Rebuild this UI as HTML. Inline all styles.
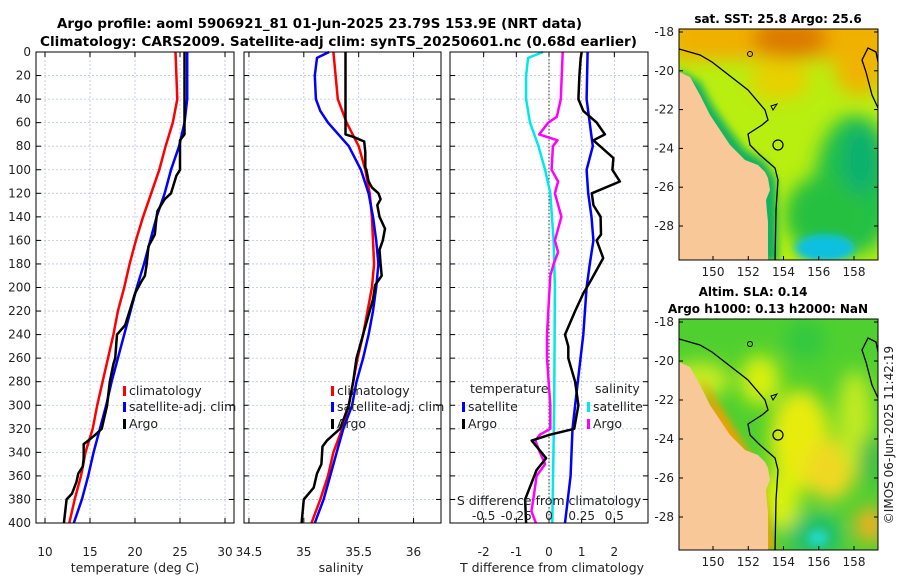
<!DOCTYPE html>
<html><head><meta charset="utf-8">
<style>
body{margin:0;background:#fff;}
svg{display:block;font-family:"DejaVu Sans","Liberation Sans",sans-serif;}
</style></head>
<body>
<svg id="chart" width="900" height="580" viewBox="0 0 900 580" xmlns="http://www.w3.org/2000/svg">
<rect width="900" height="580" fill="#fff"/>
<text x="57" y="28" font-size="13" font-weight="bold" textLength="525" lengthAdjust="spacingAndGlyphs">Argo profile: aoml 5906921_81 01-Jun-2025 23.79S 153.9E (NRT data)</text>
<text x="40" y="46" font-size="13" font-weight="bold" textLength="597" lengthAdjust="spacingAndGlyphs">Climatology: CARS2009. Satellite-adj clim: synTS_20250601.nc (0.68d earlier)</text>
<g id="panels"></g>
<g id="maps">
  <defs>
    <clipPath id="clip1"><rect x="679" y="29" width="199" height="231"/></clipPath>
    <clipPath id="clip2"><rect x="679" y="319" width="199" height="231"/></clipPath>
    <filter id="blur" x="-50%" y="-50%" width="200%" height="200%"><feGaussianBlur stdDeviation="9"/></filter>
    <filter id="blur2" x="-50%" y="-50%" width="200%" height="200%"><feGaussianBlur stdDeviation="4"/></filter>
  </defs>
  <text x="778" y="23" font-size="12" font-weight="bold" text-anchor="middle">sat. SST: 25.8 Argo: 25.6</text>
  <g clip-path="url(#clip1)">
    <rect x="679" y="29" width="199" height="231" fill="#b8ee10"/>
    <g filter="url(#blur)">
      <rect x="670" y="10" width="220" height="50" fill="#f0b000"/>
      <ellipse cx="790" cy="38" rx="38" ry="20" fill="#dc7a00"/>
      <ellipse cx="860" cy="70" rx="25" ry="25" fill="#f0b400"/>
      <ellipse cx="780" cy="80" rx="30" ry="20" fill="#e8d000"/>
      <ellipse cx="855" cy="185" rx="40" ry="70" fill="#22c048"/>
      <ellipse cx="825" cy="215" rx="40" ry="40" fill="#28c040"/>
      <ellipse cx="860" cy="160" rx="18" ry="35" fill="#10b070"/>
    </g>
    <ellipse cx="825" cy="248" rx="30" ry="14" fill="#10c0e0" filter="url(#blur2)"/>
    <path d="M679,70 L700,82 L712,105 L728,128 L745,150 L765,162 L776,180 L778,262 L760,262 L760,180 L740,165 L720,140 L700,110 L679,85Z" fill="#10b060" filter="url(#blur2)"/>
    <path d="M679,72 L690,77 L700,95 L710,115 L720,130 L730,145 L745,160 L758,165 L765,172 L768,178 L770,190 L766,200 L767,212 L768,222 L768,262 L679,262Z" fill="#f8c898"/>
    <path d="M679,49 L700,55 L712,62 L748,90 L765,110 L768,120 L762,125 L748,134 L750,145 L760,155 L775,168 L778,180 L776,210 L775,262" fill="none" stroke="#000" stroke-width="1.3"/>
    <path d="M879,110 L872,95 L866,72 L862,60 L868,48 L876,52 L878,62" fill="none" stroke="#000" stroke-width="1.3"/>
    <circle cx="778" cy="145" r="5" fill="none" stroke="#000" stroke-width="1.2"/>
    <path d="M771,106 L777,104 L773,110Z" fill="none" stroke="#000"/>
    <circle cx="750" cy="54" r="2.5" fill="none" stroke="#000"/>
  </g>
  <rect x="679" y="29" width="199" height="231" fill="none" stroke="#000" stroke-width="1"/>
  <text x="753" y="296" font-size="12" font-weight="bold" text-anchor="middle">Altim. SLA: 0.14</text>
  <text x="768" y="313" font-size="12" font-weight="bold" text-anchor="middle">Argo h1000: 0.13 h2000: NaN</text>
  <g clip-path="url(#clip2)">
    <rect x="679" y="319" width="199" height="231" fill="#50d030"/>
    <g filter="url(#blur)">
      <ellipse cx="700" cy="380" rx="30" ry="18" fill="#c8ec20"/>
      <ellipse cx="760" cy="380" rx="20" ry="25" fill="#d8f010"/>
      <ellipse cx="800" cy="440" rx="30" ry="50" fill="#e8ec10"/>
      <ellipse cx="830" cy="470" rx="25" ry="30" fill="#f0d820"/>
      <ellipse cx="855" cy="420" rx="18" ry="50" fill="#c0ea20"/>
      <ellipse cx="870" cy="525" rx="15" ry="18" fill="#f0b020"/>
      <ellipse cx="815" cy="535" rx="28" ry="22" fill="#20c070"/>
      <ellipse cx="780" cy="500" rx="20" ry="30" fill="#d8f010"/>
      <ellipse cx="805" cy="340" rx="20" ry="20" fill="#30c840"/>
      <ellipse cx="870" cy="460" rx="10" ry="25" fill="#30b850"/>
    </g>
    <ellipse cx="818" cy="538" rx="10" ry="8" fill="#20d8c0" filter="url(#blur2)"/>
    <path d="M700,375 L735,430 L760,470 L775,550 L740,550 L720,440Z" fill="#f0a000" filter="url(#blur2)"/>
    <path d="M679,362 L690,367 L700,385 L710,405 L720,420 L730,435 L745,450 L758,455 L765,462 L768,468 L770,480 L766,490 L767,502 L768,512 L768,552 L679,552Z" fill="#f8c898"/>
    <path d="M679,339 L700,345 L712,352 L748,380 L765,400 L768,410 L762,415 L748,424 L750,435 L760,445 L775,458 L778,470 L776,500 L775,552" fill="none" stroke="#000" stroke-width="1.3"/>
    <path d="M879,400 L872,385 L866,362 L862,350 L868,338 L876,342 L878,352" fill="none" stroke="#000" stroke-width="1.3"/>
    <circle cx="778" cy="435" r="5" fill="none" stroke="#000" stroke-width="1.2"/>
    <path d="M771,396 L777,394 L773,400Z" fill="none" stroke="#000"/>
    <circle cx="750" cy="344" r="2.5" fill="none" stroke="#000"/>
  </g>
  <rect x="679" y="319" width="199" height="231" fill="none" stroke="#000" stroke-width="1"/>
  <text font-size="12" fill="#222" transform="translate(893,435) rotate(-90)" text-anchor="middle">©IMOS 06-Jun-2025 11:42:19</text>
  <g id="mapaxes"></g>
</g>
</svg>
<script>
// ---------- data ----------
const depthTicks = [0,20,40,60,80,100,120,140,160,180,200,220,240,260,280,300,320,340,360,380,400];
const tempTicks = [10,15,20,25,30];
const salTicks = [34.5,35,35.5,36];
const tdiffTicks = [-2,-1,0,1,2];
const sdiffTicks = [-0.5,-0.25,0,0.25,0.5];
const sdiffTickLabels = ["-0.5","-0.25","0","0.25","0.5"];

const climDepth = [0,40,60,80,100,120,140,160,180,200,220,240,260,280,300,320,340,360,380,400];
const tempClim = [24.5,24.7,24.2,23.4,22.7,21.8,20.9,20.1,19.4,18.8,18.1,17.6,17.0,16.4,15.8,15.3,14.5,14.0,13.3,12.7];
const tempSat = [25.8,25.8,25.5,24.9,24.0,23.3,22.4,21.7,21.0,20.2,19.5,18.8,18.1,17.4,16.8,16.1,15.4,14.8,14.1,13.2];
const argoTDepth = [0,60,70,75,80,100,105,110,120,125,135,140,155,165,180,190,195,205,220,232,240,260,265,280,300,320,325,330,333,345,352,358,365,375,380,400];
const tempArgo = [25.5,25.5,25.5,25.0,25.0,25.0,24.6,24.4,24.0,23.3,22.5,22.4,22.2,21.5,21.3,21.1,20.7,20.0,19.4,18.9,18.0,17.8,17.6,17.2,16.9,16.3,15.6,14.8,14.3,14.3,14.2,13.7,13.5,13.0,12.4,12.1];

const salClim = [35.27,35.31,35.39,35.50,35.56,35.60,35.62,35.63,35.64,35.62,35.58,35.54,35.49,35.45,35.41,35.35,35.27,35.22,35.15,35.07];
const satSDepth = [0,5,20,40,50,60,80,100,120,140,160,180,200,220,240,260,280,300,320,340,360,380,400];
const salSat = [35.23,35.12,35.10,35.11,35.15,35.22,35.41,35.52,35.59,35.63,35.66,35.68,35.66,35.63,35.59,35.54,35.48,35.44,35.36,35.30,35.24,35.18,35.10];
const argoSDepth = [0,70,72,76,85,98,100,110,115,120,125,130,140,150,160,168,180,190,198,210,230,240,260,280,300,320,325,330,335,350,358,370,380,400];
const salArgo = [35.38,35.38,35.45,35.55,35.56,35.56,35.57,35.59,35.62,35.68,35.70,35.67,35.69,35.74,35.72,35.69,35.70,35.71,35.65,35.63,35.57,35.54,35.48,35.45,35.41,35.33,35.27,35.21,35.17,35.16,35.12,35.09,35.00,34.98];

const sdSatDepth = [0,5,20,40,60,80,100,120,160,200,300,400];
const sDiffSat = [-0.045,-0.16,-0.175,-0.175,-0.145,-0.08,-0.03,0.01,0.035,0.045,0.04,0.025];
const sdArgoDepth = [0,40,55,60,70,75,80,100,110,120,140,160,170,180,190,220,240,260,300,320,325,330,340,350,360,380,390,400];
const sDiffArgo = [0.105,0.09,0.06,-0.005,-0.075,0.065,0.03,0.02,0.07,0.045,0.095,0.045,0.07,0.035,0.01,-0.005,-0.015,-0.015,0.01,0.01,-0.07,-0.105,-0.07,-0.03,-0.095,-0.12,-0.135,-0.1];
const tdSatDepth = [0,40,80,100,120,140,160,180,200,240,280,320,360,400];
const tDiffSat = [1.18,1.15,1.34,1.15,1.2,1.3,1.36,1.25,1.15,1.05,0.88,0.72,0.66,0.49];
const tdArgoDepth = [0,5,20,40,50,60,70,75,90,100,110,120,130,140,155,160,175,195,205,220,240,250,260,280,300,320,325,330,345,355,380,400];
const tDiffArgo = [1.0,0.97,0.93,0.9,1.05,1.46,1.71,1.36,1.97,1.94,2.17,1.31,1.36,1.58,1.59,1.46,1.66,1.26,1.05,0.8,0.49,0.59,0.59,0.8,0.9,0.77,0.03,-0.53,-0.09,-0.38,-0.73,-0.70];

const lonTicks = [150,152,154,156,158];
const latTicks = [-18,-20,-22,-24,-26,-28];

// ---------- helpers ----------
const NS = "http://www.w3.org/2000/svg";
const root = document.getElementById('panels');
function mk(tag, attrs, parent){
  const e = document.createElementNS(NS, tag);
  for (const k in attrs) e.setAttribute(k, attrs[k]);
  (parent||root).appendChild(e);
  return e;
}
const Y0 = 52, Y1 = 523;
const yScale = d => Y0 + (d/400)*(Y1-Y0);
function linScale(d0,d1,r0,r1){ return v => r0 + (v-d0)/(d1-d0)*(r1-r0); }

function drawPanel(name, x0, x1, xs, xticks, xlabels, showY){
  const g = mk('g', {});
  
  
  depthTicks.forEach(d=>{
    const l = mk('line',{x1:x0,x2:x1,y1:yScale(d),y2:yScale(d),stroke:'#b8c4dc','stroke-width':0.8,'stroke-dasharray':'2,2'},g);
    
    
    mk('line',{x1:x0,x2:x0+5,y1:yScale(d),y2:yScale(d),stroke:'#000'},g);
    mk('line',{x1:x1-5,x2:x1,y1:yScale(d),y2:yScale(d),stroke:'#000'},g);
    if (showY){
      const t = mk('text',{x:x0-5,y:yScale(d)+4,'font-size':12,'text-anchor':'end',fill:'#222'},g);
      t.textContent = d;
      
      
    }
  });
  xticks.forEach((v,i)=>{
    const x = xs(v);
    mk('line',{x1:x,x2:x,y1:Y0,y2:Y1,stroke:'#b8c4dc','stroke-width':0.8,'stroke-dasharray':'2,2'},g);
    mk('line',{x1:x,x2:x,y1:Y1-5,y2:Y1,stroke:'#000'},g);
    mk('line',{x1:x,x2:x,y1:Y0,y2:Y0+5,stroke:'#000'},g);
    if (xlabels){
      const t = mk('text',{x:x,y:556,'font-size':12,'text-anchor':'middle',fill:'#222'},g);
      t.textContent = xlabels[i];
      
      
    }
  });
  return g;
}
function drawLine(name, xs, depths, vals, color, w, parent){
  const pts = depths.map((d,i)=> xs(vals[i]).toFixed(1)+','+yScale(d).toFixed(1)).join(' ');
  const p = mk('polyline',{points:pts,fill:'none',stroke:color,'stroke-width':w||2.5,'stroke-linejoin':'round'},parent);
  
  
}
function frame(x0,x1){ mk('rect',{x:x0,y:Y0,width:x1-x0,height:Y1-Y0,fill:'none',stroke:'#000','stroke-width':1}); }
function label(name, x, y, txt, anchor, size){
  const t = mk('text',{x:x,y:y,'font-size':size||12,'text-anchor':anchor||'start',fill:'#222'});
  t.textContent = txt;
  
  
  return t;
}
function legendEntry(name, x, y, color, txt){
  const g = mk('g',{});
  
  
  mk('rect',{x:x,y:y-9,width:3,height:10,fill:color},g);
  const t = mk('text',{x:x+6,y:y,'font-size':12.5,fill:'#222'},g);
  t.textContent = txt;
}

// ---------- panel 1: temperature ----------
const xT = linScale(9,31,36,234);
const g1 = drawPanel('temperature-panel',36,234,xT,tempTicks,tempTicks.map(String),true);
drawLine('temp-climatology-line', xT, climDepth, tempClim, '#ff0000', 2.5, g1);
drawLine('temp-satellite-line', xT, climDepth, tempSat, '#0000ff', 2.5, g1);
drawLine('temp-argo-line', xT, argoTDepth, tempArgo, '#000', 2.5, g1);
frame(36,234);
label('temperature-axis-title',135,572,'temperature (deg C)','middle',12.5);
legendEntry('legend-climatology',123,395,'#ff0000','climatology');
legendEntry('legend-satellite-adj',123,411,'#0000ff','satellite-adj. clim');
legendEntry('legend-argo',123,428,'#000','Argo');

// ---------- panel 2: salinity ----------
const xS = linScale(34.455,36.25,244,441);
const g2 = drawPanel('salinity-panel',244,441,xS,salTicks,salTicks.map(String),false);
drawLine('sal-climatology-line', xS, climDepth, salClim, '#ff0000', 2.5, g2);
drawLine('sal-satellite-line', xS, satSDepth, salSat, '#0000ff', 2.5, g2);
drawLine('sal-argo-line', xS, argoSDepth, salArgo, '#000', 2.5, g2);
frame(244,441);
label('salinity-axis-title',341,572,'salinity','middle',12.5);
legendEntry('legend-climatology-2',331,395,'#ff0000','climatology');
legendEntry('legend-satellite-adj-2',331,411,'#0000ff','satellite-adj. clim');
legendEntry('legend-argo-2',331,428,'#000','Argo');

// ---------- panel 3: differences ----------
const xTD = linScale(-3.03,3.03,450,648);
const xSD = linScale(-0.7575,0.7575,450,648);
const g3 = drawPanel('difference-panel',450,648,xTD,tdiffTicks,tdiffTicks.map(String),false);
mk('line',{x1:xTD(0),x2:xTD(0),y1:Y0,y2:Y1,stroke:'#333','stroke-width':1,'stroke-dasharray':'1.5,2'},g3);
drawLine('sdiff-satellite-line', xSD, sdSatDepth, sDiffSat, '#00e8e8', 2.5, g3);
drawLine('sdiff-argo-line', xSD, sdArgoDepth, sDiffArgo, '#ff00ff', 2.5, g3);
drawLine('tdiff-satellite-line', xTD, tdSatDepth, tDiffSat, '#0000ff', 2.5, g3);
drawLine('tdiff-argo-line', xTD, tdArgoDepth, tDiffArgo, '#000', 2.5, g3);
frame(450,648);
label('tdiff-axis-title',552,572,'T difference from climatology','middle',12.5);
label('sdiff-axis-title',549,505,'S difference from climatology','middle',12.5);
sdiffTicks.forEach((v,i)=>{ label('sdiff-tick-label', xSD(v), 520, sdiffTickLabels[i], 'middle', 12); });
label('legend-temperature-heading',470,393,'temperature','start',12.5);
label('legend-salinity-heading',595,393,'salinity','start',12.5);
legendEntry('legend-tdiff-satellite',462,411,'#0000ff','satellite');
legendEntry('legend-tdiff-argo',462,428,'#000','Argo');
legendEntry('legend-sdiff-satellite',587,411,'#00e8e8','satellite');
legendEntry('legend-sdiff-argo',587,428,'#ff00ff','Argo');

// ---------- map axes ----------
const ma = document.getElementById('mapaxes');
function mapAxes(top, lat0y, lat28y, bottom){
  const lonX = linScale(150,158,713,854);
  const latY = linScale(-18,-28,lat0y,lat28y);
  lonTicks.forEach(v=>{
    const x = lonX(v);
    mk('line',{x1:x,x2:x,y1:bottom,y2:bottom-4,stroke:'#000'},ma);
    const t = mk('text',{x:x,y:bottom+16,'font-size':12,'text-anchor':'middle',fill:'#222'},ma);
    t.textContent = v;
    
    
  });
  latTicks.forEach(v=>{
    const y = latY(v);
    mk('line',{x1:679,x2:683,y1:y,y2:y,stroke:'#000'},ma);
    mk('line',{x1:874,x2:878,y1:y,y2:y,stroke:'#000'},ma);
    const t = mk('text',{x:674,y:y+4,'font-size':12,'text-anchor':'end',fill:'#222'},ma);
    t.textContent = v;
    
    
  });
}
mapAxes(29,32,226,260);
mapAxes(319,322,517,550);
</script>
</body></html>
